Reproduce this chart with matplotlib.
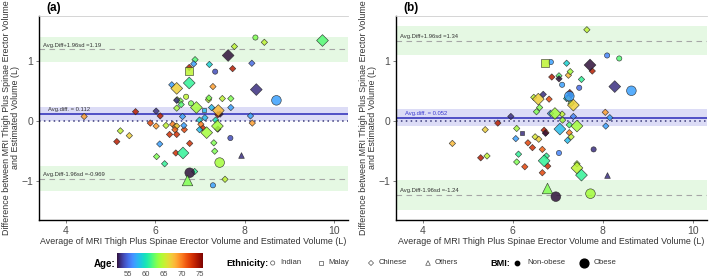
import numpy as np
import matplotlib
matplotlib.use("Agg")
from matplotlib import pyplot as plt
from matplotlib import cm, colors

plt.rcParams['font.family'] = ['Liberation Sans', 'DejaVu Sans']

# panel (a): average, difference, age, ethnicity, obese
xa = [8.24, 9.74, 8.44, 7.77, 7.63, 8.16, 7.21, 6.89, 6.86, 6.76, 6.76, 7.34, 7.73, 6.76,
      6.37, 6.48, 7.29, 8.26, 8.71, 6.49, 6.56, 6.48, 6.69, 6.58, 6.80, 6.92, 7.19, 7.20,
      7.50, 7.69, 7.69, 7.26, 6.48, 7.41, 7.45, 7.40, 7.10, 6.02, 5.56, 6.11, 4.41, 6.61,
      7.11, 8.13, 8.17, 6.99, 7.35, 5.89, 6.02, 6.24, 6.39, 6.45, 6.48, 6.44, 6.32, 6.48,
      6.65, 6.64, 7.06, 7.02, 6.99, 7.15, 7.39, 7.40, 5.22, 5.42, 5.14, 6.10, 6.77, 7.31,
      7.68, 6.46, 6.62, 7.33, 6.03, 6.21, 7.92, 7.44, 6.77, 6.88, 6.71, 7.56, 7.29]
ya = [1.39, 1.34, 1.31, 1.24, 1.09, 0.96, 0.94, 1.02, 0.95, 0.83, 0.89, 0.82, 0.87, 0.63,
      0.60, 0.54, 0.57, 0.52, 0.34, 0.35, 0.33, 0.34, 0.40, 0.27, 0.29, 0.22, 0.35, 0.38,
      0.37, 0.37, 0.22, 0.22, 0.21, 0.17, 0.11, 0.10, 0.18, 0.16, 0.15, 0.08, 0.07, 0.07,
      0.05, 0.08, -0.04, 0.01, 0.01, -0.04, -0.09, -0.08, -0.06, -0.10, -0.09, -0.15, -0.23, -0.23,
      -0.15, -0.08, -0.12, -0.06, -0.15, -0.20, -0.09, -0.14, -0.17, -0.25, -0.35, -0.39, -0.38, -0.37,
      -0.29, -0.54, -0.54, -0.51, -0.60, -0.72, -0.57, -0.70, -0.87, -0.85, -0.99, -0.98, -1.08]
age_a = [63, 62, 65, 65, 52, 55, 59, 62, 57, 65, 74, 54, 74, 61,
         57, 67, 69, 53, 57, 64, 63, 53, 65, 62, 63, 64, 65, 63,
         65, 63, 57, 58, 64, 68, 52, 75, 58, 53, 74, 74, 69, 57,
         58, 57, 69, 59, 60, 72, 69, 65, 70, 68, 67, 71, 73, 73,
         72, 57, 73, 70, 58, 64, 64, 52, 65, 67, 74, 57, 73, 63,
         54, 73, 61, 63, 63, 61, 53, 64, 52, 61, 63, 65, 57]
eth_a = list("ICCCCCCCCMCICC" "CCCCICCCICICCC" "CCCCCCCCMCCCCC"
             "CCCCCCCCCCCCCC" "CCCCCCCCCCCCCC" "ICCCCCOIICOCI")
obese_a = [0, 1, 0, 0, 1, 0, 0, 0, 0, 1, 0, 0, 0, 1,
           0, 1, 0, 1, 1, 0, 0, 0, 0, 0, 0, 1, 0, 0,
           0, 0, 0, 0, 0, 1, 0, 0, 0, 0, 0, 0, 0, 0,
           0, 0, 0, 0, 0, 0, 0, 0, 0, 0, 0, 0, 0, 0,
           0, 0, 0, 0, 0, 1, 1, 0, 0, 0, 0, 0, 0, 0,
           0, 0, 1, 0, 0, 0, 0, 1, 1, 0, 1, 0, 0]

# panel (b)
xb = [7.65, 6.73, 6.85, 7.20, 8.10, 8.37, 7.72, 7.77, 7.24, 7.28, 7.03, 6.87, 7.03, 7.53,
      7.10, 7.48, 8.27, 8.64, 7.27, 7.28, 7.26, 6.68, 6.47, 6.57, 6.81, 7.20, 7.24, 7.35,
      7.30, 6.60, 6.53, 6.84, 6.94, 7.10, 7.35, 8.06, 8.16, 5.96, 7.11, 5.67, 5.39, 4.66,
      6.09, 6.20, 6.07, 6.34, 6.44, 6.50, 6.58, 6.70, 6.74, 6.73, 7.05, 7.43, 7.26, 7.26,
      7.30, 7.22, 7.03, 7.80, 8.07, 6.66, 5.29, 5.43, 6.13, 6.09, 6.27, 6.75, 6.70, 6.78,
      6.66, 7.43, 7.43, 7.53, 8.10, 6.76, 6.96, 7.73]
yb = [1.52, 0.97, 0.98, 0.96, 1.09, 1.04, 0.93, 0.83, 0.76, 0.82, 0.75, 0.73, 0.70, 0.69,
      0.60, 0.55, 0.57, 0.50, 0.47, 0.42, 0.41, 0.44, 0.39, 0.36, 0.36, 0.37, 0.37, 0.26,
      0.29, 0.22, 0.15, 0.12, 0.12, 0.11, 0.07, 0.14, 0.05, 0.07, 0.01, -0.04, -0.15, -0.38,
      -0.13, -0.20, -0.30, -0.37, -0.45, -0.27, -0.31, -0.16, -0.20, -0.21, -0.14, -0.09, -0.07, -0.20,
      -0.27, -0.33, -0.54, -0.48, -0.09, -0.48, -0.62, -0.59, -0.56, -0.69, -0.77, -0.59, -0.67, -0.76,
      -0.87, -0.72, -0.79, -0.91, -0.91, -1.12, -1.27, -1.22]
age_b = [65, 65, 57, 59, 56, 62, 52, 74, 68, 64, 62, 74, 52, 61,
         57, 55, 53, 57, 75, 53, 57, 53, 65, 67, 72, 59, 66, 67,
         63, 63, 63, 57, 64, 65, 56, 69, 57, 53, 64, 74, 67, 68,
         64, 53, 57, 72, 73, 66, 67, 74, 72, 52, 58, 64, 62, 70,
         65, 58, 56, 53, 57, 71, 74, 65, 61, 63, 72, 61, 61, 73,
         72, 64, 65, 61, 53, 63, 52, 64]
eth_b = list("CMICIICCCCCCCC" "IICICCICCCCCCC" "CCCCCCCCCCCCCC"
             "CMCCCCCCCCCCCC" "CCIICCCCCCCCCC" "CCCCOOII")
obese_b = [0, 1, 0, 0, 0, 0, 1, 0, 0, 0, 0, 0, 0, 0,
           0, 0, 1, 1, 0, 0, 1, 0, 0, 1, 0, 0, 0, 1,
           0, 0, 0, 0, 1, 0, 0, 0, 0, 0, 0, 0, 0, 0,
           0, 0, 0, 0, 0, 0, 0, 0, 0, 0, 1, 1, 0, 0,
           0, 0, 0, 0, 0, 0, 0, 0, 0, 0, 0, 0, 1, 0,
           0, 0, 1, 1, 0, 1, 1, 1]

# summary stats: mean diff, upper LoA, lower LoA, CI half-widths
stats_a = dict(mean=0.112, upper=1.19, lower=-0.969, ci_m=0.12, ci_l=0.21)
stats_b = dict(mean=0.052, upper=1.34, lower=-1.24, ci_m=0.14, ci_l=0.25)
labels_a = ("Avg.Diff+1.96sd =1.19", "Avg.diff. = 0.112", "Avg.Diff-1.96sd =-0.969")
labels_b = ("Avg.Diff+1.96sd =1.34", "Avg.diff. = 0.052", "Avg.Diff-1.96sd =-1.24")

eth_names = {'I': 'Indian', 'M': 'Malay', 'C': 'Chinese', 'O': 'Others'}
marker = {'I': 'o', 'M': 's', 'C': 'D', 'O': '^'}
mscale = {'I': 1.0, 'M': 0.85, 'C': 0.75, 'O': 1.2}
size_bmi = [14, 48]

cmap = matplotlib.colormaps['turbo']
norm = colors.Normalize(52, 76)

GRAY = '#4d4d4d'
xlabel = "Average of MRI Thigh Plus Spinae Erector Volume and Estimated Volume (L)"
ylabel = "Difference between MRI Thigh Plus Spinae Erector Volume\nand Estimated Volume (L)"

fig = plt.figure(figsize=(7.09, 2.8), dpi=100)


def panel(rect, x, y, age, eth, obese, st, labs, tag, mean_txt_color):
    ax = fig.add_axes(rect)
    ax.set_xlim(3.4, 10.31)
    ax.set_ylim(-1.66, 1.75)
    # bands
    ax.axhspan(st['upper'] - st['ci_l'], st['upper'] + st['ci_l'], color='#e5f8e3', lw=0, zorder=0)
    ax.axhspan(st['lower'] - st['ci_l'], st['lower'] + st['ci_l'], color='#e5f8e3', lw=0, zorder=0)
    ax.axhspan(st['mean'] - st['ci_m'], st['mean'] + st['ci_m'], color='#dcdcf6', lw=0, zorder=0)
    ax.axhline(st['upper'], color='#a6a6a6', ls=(0, (5, 4)), lw=0.8, zorder=1)
    ax.axhline(st['lower'], color='#a6a6a6', ls=(0, (5, 4)), lw=0.8, zorder=1)
    ax.axhline(0, color='#3a3a7a', ls=(0, (1, 2.2)), lw=1.1, zorder=1)
    ax.axhline(st['mean'], color='#2a2ab8', lw=1.1, zorder=1)
    ax.text(3.5, st['upper'] + 0.03, labs[0], fontsize=4.2, color='#333333', va='bottom')
    ax.text(3.5, st['lower'] + 0.03, labs[2], fontsize=4.2, color='#333333', va='bottom')
    ax.text(3.6, st['mean'] + 0.03, labs[1], fontsize=4.2, color=mean_txt_color, va='bottom')

    x = np.array(x); y = np.array(y); age = np.array(age)
    eth = np.array(eth); obese = np.array(obese)
    for ob in (0, 1):
        for e in 'CIMO':
            m = (eth == e) & (obese == ob)
            if not m.any():
                continue
            ax.scatter(x[m], y[m], c=age[m], cmap=cmap, norm=norm, marker=marker[e],
                       s=size_bmi[ob] * mscale[e], edgecolors='#222222', linewidths=0.45,
                       alpha=0.85, zorder=3)

    ax.set_xticks([4, 6, 8, 10])
    ax.set_yticks([-1, 0, 1])
    ax.tick_params(labelsize=7.5, labelcolor=GRAY, length=2, width=0.5, color=GRAY, pad=2)
    ax.spines['right'].set_visible(False)
    ax.spines['top'].set_color('#cfcfcf')
    ax.spines['top'].set_linewidth(0.6)
    ax.spines['left'].set_linewidth(1.0)
    ax.spines['bottom'].set_linewidth(1.0)
    ax.set_xlabel(xlabel, fontsize=6.4, color='#333333', labelpad=1)
    ax.set_ylabel(ylabel, fontsize=6.4, color='#333333', labelpad=1, linespacing=1.0)
    ax.text(0.025, 1.012, tag, transform=ax.transAxes, fontsize=8.5, fontweight='bold',
            va='bottom')
    return ax


panel([0.055, 0.2143, 0.4358, 0.7286], xa, ya, age_a, eth_a, obese_a, stats_a, labels_a,
      '(a)', '#333333')
panel([0.5581, 0.2143, 0.4384, 0.7286], xb, yb, age_b, eth_b, obese_b, stats_b, labels_b,
      '(b)', '#3a3ad0')

# colour bar for age
cax = fig.add_axes([117 / 709, 1 - 268 / 280, 86 / 709, 15 / 280])
cb = fig.colorbar(cm.ScalarMappable(norm=norm, cmap=cmap), cax=cax, orientation='horizontal')
cb.set_ticks([55, 60, 65, 70, 75])
cb.outline.set_visible(False)
cax.tick_params(labelsize=5.5, labelcolor=GRAY, length=2, color='white', pad=0.3)

# legend overlay in pixel coordinates
lg = fig.add_axes([0, 0, 1, 1])
lg.set_xlim(0, 709)
lg.set_ylim(280, 0)
lg.axis('off')
lg.text(116, 264, "Age:", fontsize=7, fontweight='bold', ha='right', va='center')
lg.text(226, 263, "Ethnicity:", fontsize=6.6, fontweight='bold', va='center')
eth_x = [(272.7, 280), (321, 328), (371, 378.6), (428, 435)]
for (mx, tx), e in zip(eth_x, 'IMCO'):
    lg.scatter([mx], [263], marker=marker[e], s=9 * mscale[e], facecolors='none',
               edgecolors='#555555', linewidths=0.5)
    lg.text(tx, 263, eth_names[e], fontsize=5.6, color='#333333', va='center')
lg.text(490, 263, "BMI:", fontsize=6.6, fontweight='bold', va='center')
lg.scatter([517], [263], s=10, c='black')
lg.text(527, 263, "Non-obese", fontsize=5.6, color='#333333', va='center')
lg.scatter([584], [263], s=40, c='black')
lg.text(594, 263, "Obese", fontsize=5.6, color='#333333', va='center')

fig.savefig("out.png", dpi=100)
